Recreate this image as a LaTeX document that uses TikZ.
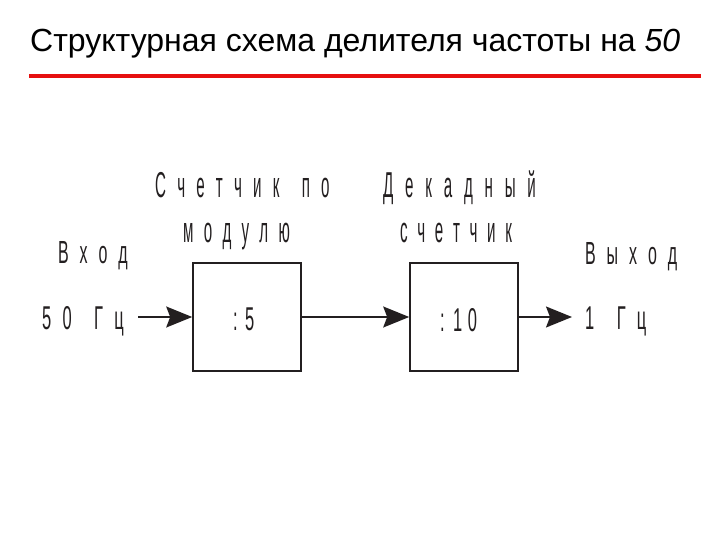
\documentclass[tikz,border=0pt]{standalone}
\usepackage{fontspec}
\setmainfont{Liberation Sans}
\usetikzlibrary{arrows.meta}
\definecolor{titlered}{RGB}{230,16,16}
\definecolor{ink}{RGB}{35,31,32}
% #1 font size, #2 horizontal scale, #3 word space, #4 text
\newcommand{\lblsp}[4]{\scalebox{#2}[1]{\fontsize{#1}{#1}\selectfont\spaceskip=#3\relax #4}}
\newcommand{\lbl}[3]{\lblsp{#1}{#2}{0.68em}{#3}}
\tikzset{
  lab/.style={inner sep=0pt, anchor=base west, text=ink},
  blockbox/.style={draw=ink, line width=1.6pt, minimum width=108pt, minimum height=108pt, inner sep=0pt},
  conn/.style={draw=ink, line width=1.6pt, -{Stealth[length=26pt,width=21pt,inset=4pt]}}
}
\begin{document}
\begin{tikzpicture}[x=1pt,y=-1pt]
\useasboundingbox (0,0) rectangle (720,540);
% title
\node[inner sep=0pt, anchor=base west] (title) at (30,52)
  {\fontsize{32}{32}\selectfont Структурная схема делителя частоты на \textit{50}};
\draw[titlered, line width=4pt] (29,76) -- (701,76);
% boxes
\node[blockbox] (b1) at (247,317) {};
\node[blockbox] (b2) at (464,317) {};
\node[lab] (t1) at (233,330) {\lbl{33}{0.5}{:\hspace{0.45em}5}};
\node[lab] (t2) at (440,331) {\lbl{33}{0.5}{:\hspace{0.5em}1\hspace{0.35em}0}};
% labels
\node[lab] (in1) at (58,263) {\lbl{32}{0.5}{В х о д}};
\node[lab] (in2) at (42,329) {\lbl{33}{0.5}{5 0~ Г ц}};
\node[lab] (c1a) at (155,198) {\lblsp{36}{0.42}{0.74em}{С ч е т ч и к~ п о}};
\node[lab] (c1b) at (183,242) {\lblsp{36}{0.42}{0.68em}{м о д у л ю}};
\node[lab] (c2a) at (383,198) {\lblsp{36}{0.42}{0.78em}{Д е к а д н ы й}};
\node[lab] (c2b) at (400,242) {\lblsp{36}{0.42}{0.64em}{с ч е т ч и к}};
\node[lab] (out1) at (585,264) {\lbl{32}{0.5}{В ы х о д}};
\node[lab] (out2) at (585,329) {\lbl{33}{0.5}{1~ Г ц}};
% connectors
\coordinate (src) at (138,317);
\coordinate (dst) at (572,317);
\draw[conn] (src) -- (b1.west);
\draw[conn] (b1.east) -- (b2.west);
\draw[conn] (b2.east) -- (dst);
\end{tikzpicture}
\end{document}
